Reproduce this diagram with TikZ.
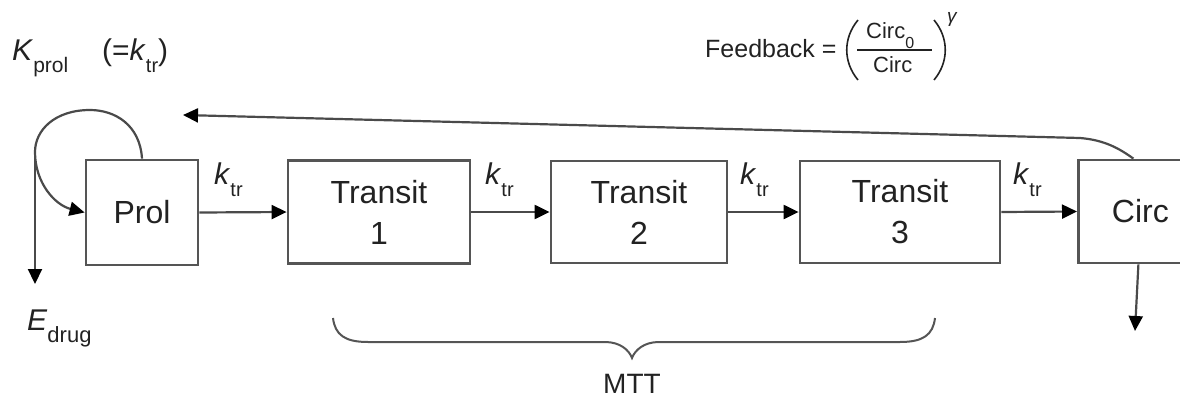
\documentclass[tikz,border=0pt]{standalone}
\usepackage{fontspec}
\setmainfont{Liberation Sans}
\usetikzlibrary{arrows.meta}
% subscript set in a smaller size and dropped below the baseline
\newcommand\lowsub[2][20]{\raisebox{-0.42em}{\fontsize{#1}{#1}\selectfont #2}}
\definecolor{ink}{HTML}{222222}
\definecolor{boxgray}{HTML}{555555}
\definecolor{linegray}{HTML}{4A4A4A}

\begin{document}
\begin{tikzpicture}[x=1pt,y=-1pt,
  box/.style={draw=boxgray, line width=2.8, fill=white, text=ink,
    font=\fontsize{32}{41}\selectfont, align=center, inner sep=0},
  flow/.style={draw=linegray, line width=2.2,
    -{Triangle[length=15,width=14,color=black,fill=black]}},
  lbl/.style={text=ink, inner sep=0, font=\fontsize{30}{30}\selectfont},
  small/.style={text=ink, inner sep=0, font=\fontsize{22}{22}\selectfont}]

\path[use as bounding box] (0,0) rectangle (1180,412);
\clip (0,0) rectangle (1180,412);

% compartments
\node[box, minimum width=112, minimum height=105] (prol) at (142,212.5) {Prol};
\node[box, minimum width=182, minimum height=103] (t1) at (379,212) {Transit\\1};
\node[box, minimum width=176, minimum height=102] (t2) at (639,212) {Transit\\2};
\node[box, minimum width=200, minimum height=102] (t3) at (900,212) {Transit\\3};
\node[box, minimum width=124, minimum height=103, anchor=west] (circ) at (1077,211.5) {Circ};

% transit rates
\draw[flow] (prol.east) -- (t1.west);
\draw[flow] (t1.east) -- (t2.west);
\draw[flow] (t2.east) -- (t3.west);
\draw[flow] (t3.east) -- (circ.west);
\node[lbl, anchor=base west] (k1) at (214,184) {\textit{k}\lowsub{tr}};
\node[lbl, anchor=base west] (k2) at (485,184) {\textit{k}\lowsub{tr}};
\node[lbl, anchor=base west] (k3) at (740,184) {\textit{k}\lowsub{tr}};
\node[lbl, anchor=base west] (k4) at (1013,184) {\textit{k}\lowsub{tr}};

% proliferation loop and drug effect
\draw[flow] (prol.north) .. controls (140,125) and (115,110) .. (90,110)
  .. controls (55,110) and (35,130) .. (35,152)
  .. controls (35,183) and (55,205) .. (prol.west);
\coordinate (edtop) at (35,148);
\coordinate (edbot) at (35,284);
\draw[flow] (edtop) -- (edbot);
\node[lbl, anchor=base west] (kprol) at (12,60) {\textit{K}\lowsub[21]{prol}};
\node[lbl, anchor=base west] (kprolval) at (102,60) {(=\textit{k}\lowsub{tr})};
\node[lbl, anchor=base west] (edrug) at (27,330) {\textit{E}\lowsub[22]{drug}};

% feedback from circulating cells
\coordinate (fbend) at (183,115);
\draw[flow] ([xshift=-7]circ.north) .. controls (1120,149) and (1105,140) .. (1080,138) -- (fbend);
\node[lbl, font=\fontsize{25}{25}\selectfont, anchor=base west] (fb) at (705,58) {Feedback =};
\node[small, anchor=base west] (num) at (866,39) {Circ\lowsub[16]{0}};
\node[small, anchor=base west] (den) at (873,73) {Circ};
\draw[ink, line width=1.3] (857,50) -- (932,50);
\draw[ink, line width=1.6] (858,20) .. controls (843,38) and (843,62) .. (858,80);
\draw[ink, line width=1.6] (934,20) .. controls (949,38) and (949,62) .. (934,80);
\node[text=ink, inner sep=0, font=\fontsize{19}{19}\selectfont\itshape, anchor=base west] (gam) at (947,23) {γ};

% outflow of circulating cells
\coordinate (circout) at (1135,331);
\draw[flow] ([xshift=-2]circ.south) -- (circout);

% mean transit time brace
\draw[boxgray, line width=2] (333,318) .. controls (335,335) and (345,342) .. (368,342)
  -- (605,342) .. controls (620,342) and (629,350) .. (632,358)
  .. controls (635,350) and (644,342) .. (659,342)
  -- (900,342) .. controls (923,342) and (933,335) .. (935,318);
\coordinate (bracetip) at (632,358);
\node[lbl, font=\fontsize{28}{28}\selectfont, anchor=north] (mtt) at ([yshift=-16]bracetip) {MTT};

\end{tikzpicture}
\end{document}
